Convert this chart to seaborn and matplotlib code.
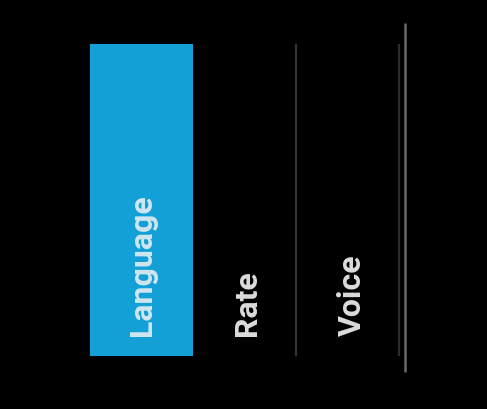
import pandas as pd
import matplotlib
matplotlib.use("Agg")
import matplotlib.pyplot as plt
import seaborn as sns

# 데이터
tabs = ["Language", "Rate", "Voice"]
selected = [1, 0, 0]
divider_pos = [1.5, 2.5]

df = pd.DataFrame({"tab": tabs, "selected": selected})

sns.set_style("dark")
plt.rcParams['font.family'] = ['Roboto', 'DejaVu Sans']

fig = plt.figure(figsize=(4.87, 4.10), dpi=100, facecolor="black")
ax = fig.add_axes([0, 0, 1, 1])
ax.set_facecolor("black")

sns.barplot(x="tab", y="selected", data=df, order=tabs, color="#13a0d6",
            width=1.0, errorbar=None, saturation=1, ax=ax, linewidth=0)

# 탭 구분선
ax.vlines(divider_pos, 0, 1, colors=["#353535", "#2c2c2c"], linewidth=1.6)
ax.vlines([2.558], -0.05, 1.067, colors="#6a6a6a", linewidth=1.8)

# 라벨 (세로 텍스트)
for i, name in enumerate(tabs):
    col = "#cfe6ef" if selected[i] else "#dcdcdc"
    ax.text(i + 0.02 * i, 0.068, name, rotation=90, ha="center", va="bottom",
            fontsize=23, fontweight="bold", color=col)

ax.set_xlim(-1.374, 3.354)
ax.set_ylim(-0.170, 1.144)
ax.set_axis_off()

fig.savefig("out.png", dpi=100, facecolor="black")
